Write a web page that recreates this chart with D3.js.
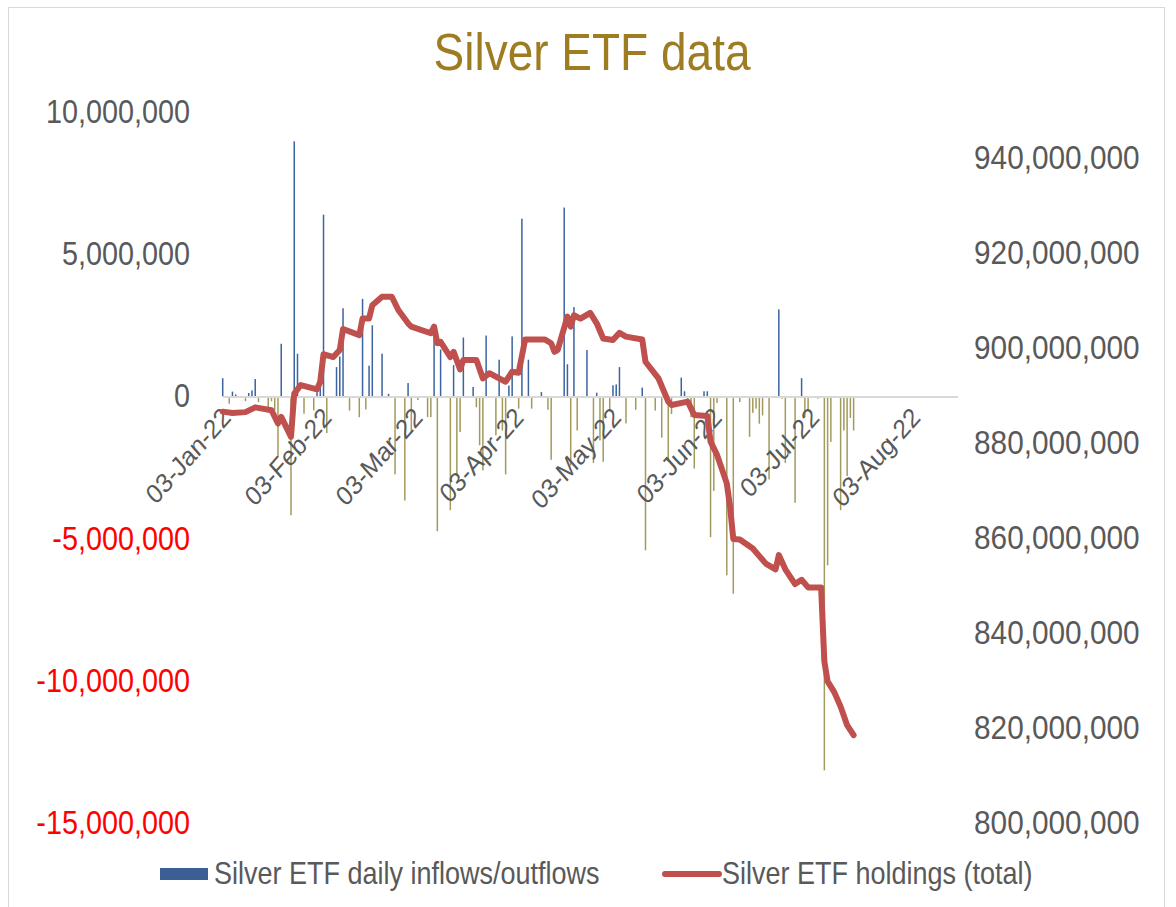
<!DOCTYPE html>
<html>
<head>
<meta charset="utf-8">
<script src="https://cdn.jsdelivr.net/npm/d3@7"></script>
<style>
  body { margin: 0; background: #fff; }
  svg text { font-family: "Liberation Sans", Arial, sans-serif; }
</style>
</head>
<body>
<div id="chart"></div>
<script>
// daily inflows/outflows (ounces)
var flowDates = ["2022-01-03","2022-01-05","2022-01-06","2022-01-07","2022-01-10","2022-01-11","2022-01-12","2022-01-13","2022-01-14","2022-01-17",
  "2022-01-18","2022-01-19","2022-01-20","2022-01-21","2022-01-24","2022-01-25","2022-01-26","2022-01-28","2022-01-31","2022-02-01",
  "2022-02-02","2022-02-03","2022-02-04","2022-02-07","2022-02-08","2022-02-09","2022-02-11","2022-02-14","2022-02-15","2022-02-16",
  "2022-02-17","2022-02-18","2022-02-21","2022-02-23","2022-02-25","2022-02-28","2022-03-01","2022-03-02","2022-03-04","2022-03-07",
  "2022-03-08","2022-03-09","2022-03-10","2022-03-11","2022-03-14","2022-03-15","2022-03-16","2022-03-17","2022-03-18","2022-03-21",
  "2022-03-22","2022-03-23","2022-03-24","2022-03-25","2022-03-28","2022-03-29","2022-03-30","2022-03-31","2022-04-01","2022-04-02",
  "2022-04-04","2022-04-05","2022-04-07","2022-04-08","2022-04-11","2022-04-13","2022-04-14","2022-04-18","2022-04-19","2022-04-20",
  "2022-04-21","2022-04-22","2022-04-25","2022-04-27","2022-04-28","2022-04-29","2022-04-30","2022-05-02","2022-05-03","2022-05-04",
  "2022-05-05","2022-05-07","2022-05-10","2022-05-12","2022-05-13","2022-05-16","2022-05-18","2022-05-20","2022-05-21","2022-05-24",
  "2022-05-25","2022-05-26","2022-05-27","2022-05-28","2022-05-31","2022-06-01","2022-06-02","2022-06-03","2022-06-04","2022-06-07",
  "2022-06-09","2022-06-11","2022-06-14","2022-06-15","2022-06-16","2022-06-17","2022-06-18","2022-06-20","2022-06-23","2022-06-24",
  "2022-06-25","2022-06-28","2022-06-30","2022-07-01","2022-07-02","2022-07-05","2022-07-07","2022-07-08","2022-07-09","2022-07-12",
  "2022-07-13","2022-07-14","2022-07-15","2022-07-16"];
var flowValues = [640000,-260000,170000,70000,-170000,120000,210000,610000,-200000,-380000,
  -170000,-490000,-2130000,1850000,-4180000,8970000,1500000,-610000,-490000,150000,
  330000,6390000,-1290000,1030000,1400000,3100000,-500000,-730000,3430000,-460000,
  1080000,2500000,1500000,90000,-2740000,-3660000,470000,-1300000,-130000,-730000,
  -730000,2090000,-4740000,1650000,-4000000,1100000,-2720000,-1250000,2070000,330000,
  -380000,-1720000,-2600000,2140000,-1370000,1290000,-1200000,-2740000,380000,2110000,
  -430000,6250000,1290000,-430000,150000,-470000,-2230000,6640000,1130000,-2430000,
  3140000,-1200000,1630000,-2340000,130000,-1550000,-2300000,-500000,390000,420000,
  1030000,-950000,-470000,310000,-5410000,-500000,-1450000,-2300000,-620000,660000,
  180000,-250000,-730000,-2540000,180000,180000,-4950000,-3320000,-230000,-6290000,
  -6940000,-200000,-1420000,-580000,-430000,-960000,-670000,-2920000,3060000,-80000,
  -2340000,-3740000,640000,-730000,-490000,-80000,-13150000,-5940000,-1600000,-4000000,
  -1200000,-2800000,-760000,-1200000];

// total holdings (ounces)
var holdDates = ["2022-01-03","2022-01-06","2022-01-10","2022-01-13","2022-01-18","2022-01-20","2022-01-21","2022-01-24","2022-01-25","2022-01-27",
  "2022-02-01","2022-02-02","2022-02-03","2022-02-06","2022-02-08","2022-02-09","2022-02-14","2022-02-15","2022-02-17","2022-02-18",
  "2022-02-21","2022-02-24","2022-02-26","2022-03-01","2022-03-02","2022-03-08","2022-03-09","2022-03-10","2022-03-11","2022-03-14",
  "2022-03-15","2022-03-17","2022-03-18","2022-03-22","2022-03-24","2022-03-26","2022-03-29","2022-03-31","2022-04-02","2022-04-04",
  "2022-04-06","2022-04-12","2022-04-14","2022-04-15","2022-04-16","2022-04-19","2022-04-20","2022-04-21","2022-04-23","2022-04-26",
  "2022-04-28","2022-04-30","2022-05-03","2022-05-05","2022-05-07","2022-05-12","2022-05-13","2022-05-17","2022-05-20","2022-05-21",
  "2022-05-26","2022-05-28","2022-06-01","2022-06-02","2022-06-04","2022-06-07","2022-06-08","2022-06-09","2022-06-11","2022-06-15",
  "2022-06-19","2022-06-22","2022-06-23","2022-06-25","2022-06-28","2022-06-30","2022-07-02","2022-07-06","2022-07-07","2022-07-08",
  "2022-07-10","2022-07-12","2022-07-14","2022-07-16"];
var holdValues = [886.6,886.3,886.5,887.5,886.9,884.1,885.5,881.3,890.4,892.2,
  891.3,892.9,898.7,898.1,899.6,904.0,902.7,906.2,906.2,909.0,
  910.8,910.8,908.0,905.2,904.5,903.1,904.5,901.0,901.3,898.1,
  899.2,895.5,897.5,897.5,893.6,894.7,893.6,892.9,895.0,894.8,
  901.8,901.8,901.0,899.2,899.6,906.6,904.5,906.9,906.2,907.4,
  905.2,902.0,901.7,903.2,902.4,901.8,897.1,893.6,888.7,888.0,
  888.7,885.9,885.7,880.3,877.5,871.5,866.6,859.8,859.7,857.8,
  854.6,853.4,856.4,853.4,850.3,851.2,849.6,849.6,834.0,829.8,
  827.6,824.5,820.6,818.5].map(function(v) { return v * 1e6; });

var leftTicks = [10000000, 5000000, 0, -5000000, -10000000, -15000000];
var rightTicks = [940000000, 920000000, 900000000, 880000000, 860000000, 840000000, 820000000, 800000000];
var monthTicks = ["2022-01-03","2022-02-03","2022-03-03","2022-04-03","2022-05-03","2022-06-03","2022-07-03","2022-08-03"];

var parse = d3.timeParse("%Y-%m-%d");
var fmt = d3.formatLocale({decimal: ".", thousands: ",", grouping: [3], currency: ["", ""], minus: "-"}).format(",");
var stretch = "scale(1,1.13)";

var width = 1176, height = 907;
var svg = d3.select("#chart").append("svg")
    .attr("width", width)
    .attr("height", height);

// chart frame
svg.append("rect")
   .attr("x", 8.5).attr("y", 7.5)
   .attr("width", 1156).attr("height", 920)
   .attr("fill", "#fff")
   .attr("stroke", "#d9d9d9");

var x = d3.scaleTime()
    .domain([parse("2022-01-03"), parse("2022-08-17")])
    .range([222.7, 957.7]);
var yL = d3.scaleLinear().domain([-15000000, 10000000]).range([823, 112]);
var yR = d3.scaleLinear().domain([800000000, 940000000]).range([823, 158]);

// title
svg.append("text")
   .attr("transform", "translate(592,70) " + stretch)
   .attr("text-anchor", "middle")
   .style("font-size", "46px")
   .style("fill", "#9e7c22")
   .text("Silver ETF data");

// bars
svg.append("g").selectAll("rect")
   .data(flowDates.map(function(d, i) { return {date: parse(d), v: flowValues[i]}; }))
   .enter().append("rect")
   .attr("x", function(d) { return x(d.date) - 0.75; })
   .attr("width", 1.5)
   .attr("y", function(d) { return yL(Math.max(0, d.v)); })
   .attr("height", function(d) { return Math.abs(yL(d.v) - yL(0)); })
   .attr("fill", function(d) { return d.v >= 0 ? "#3b64a0" : "#a39a5e"; });

// x axis (zero line)
var xAxis = svg.append("g")
   .attr("transform", "translate(0," + yL(0) + ")")
   .call(d3.axisBottom(x).tickValues(monthTicks.map(parse)).tickSize(0).tickSizeOuter(0)
         .tickFormat(d3.timeFormat("%d-%b-%y")));
xAxis.select(".domain").attr("stroke", "#d9d9d9").attr("stroke-width", 2);
xAxis.selectAll("text")
   .attr("x", 0).attr("y", 0).attr("dy", "0.35em")
   .attr("transform", "translate(3,16) " + stretch + " rotate(-45)")
   .attr("text-anchor", "end")
   .style("font-size", "24px")
   .attr("fill", "#595959");

// holdings line
var line = d3.line()
    .x(function(d) { return x(d.date); })
    .y(function(d) { return yR(d.v); });
svg.append("path")
   .datum(holdDates.map(function(d, i) { return {date: parse(d), v: holdValues[i]}; }))
   .attr("d", line)
   .attr("fill", "none")
   .attr("stroke", "#c0504d")
   .attr("stroke-width", 6)
   .attr("stroke-linejoin", "round")
   .attr("stroke-linecap", "round");

// left axis
var leftAxis = svg.append("g")
   .attr("transform", "translate(190,0)")
   .call(d3.axisLeft(yL).tickValues(leftTicks).tickSize(0).tickFormat(fmt));
leftAxis.select(".domain").remove();
leftAxis.selectAll("text")
   .attr("x", 0)
   .attr("transform", stretch)
   .style("font-size", "28.8px")
   .attr("fill", function(d) { return d < 0 ? "#ff0000" : "#595959"; });

// right axis
var rightAxis = svg.append("g")
   .attr("transform", "translate(974,0)")
   .call(d3.axisRight(yR).tickValues(rightTicks).tickSize(0).tickFormat(fmt));
rightAxis.select(".domain").remove();
rightAxis.selectAll("text")
   .attr("x", 0)
   .attr("transform", stretch)
   .style("font-size", "29.8px")
   .attr("fill", "#595959");

// legend
var legend = svg.append("g");
legend.append("rect")
   .attr("x", 160).attr("y", 868).attr("width", 48).attr("height", 12)
   .attr("fill", "#3b5f94");
legend.append("text")
   .attr("transform", "translate(214,884) " + stretch)
   .style("font-size", "27px")
   .attr("fill", "#595959")
   .text("Silver ETF daily inflows/outflows");
legend.append("line")
   .attr("x1", 665).attr("x2", 719).attr("y1", 874).attr("y2", 874)
   .attr("stroke", "#c0504d").attr("stroke-width", 6).attr("stroke-linecap", "round");
legend.append("text")
   .attr("transform", "translate(722,884) " + stretch)
   .style("font-size", "27px")
   .attr("fill", "#595959")
   .text("Silver ETF holdings (total)");
</script>
</body>
</html>
